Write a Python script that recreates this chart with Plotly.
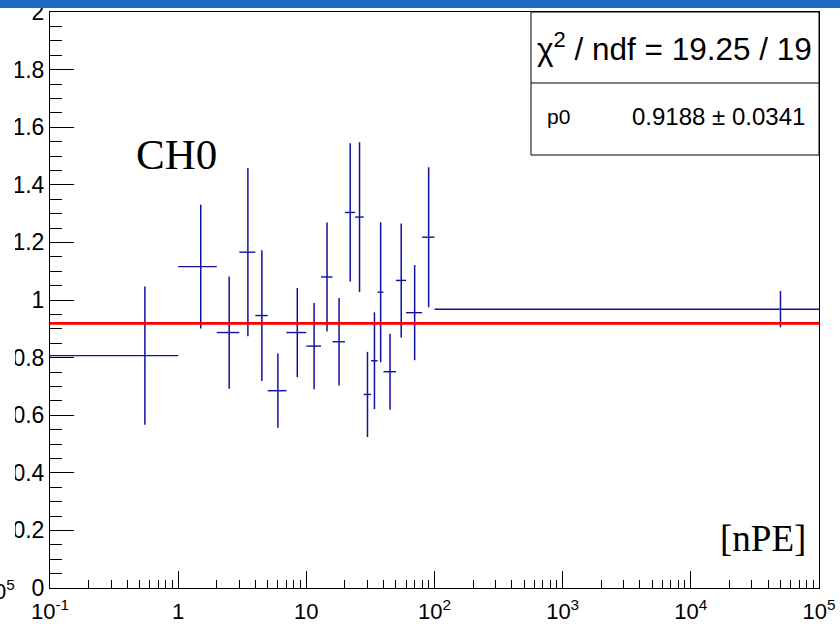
import plotly.graph_objects as go

# ---------------- data ----------------
bin_edges = [0.1, 1, 2, 3, 4, 5, 7, 10, 13, 16, 20, 24, 28, 32, 36, 40, 50, 60, 80, 100, 1e5]
ratio = [0.807, 1.116, 0.887, 1.166, 0.946, 0.685, 0.887, 0.840, 1.080, 0.855,
         1.304, 1.288, 0.672, 0.789, 1.027, 0.751, 1.068, 0.956, 1.218, 0.968]
ratio_err = [0.240, 0.215, 0.195, 0.292, 0.227, 0.129, 0.155, 0.150, 0.189, 0.152,
             0.240, 0.260, 0.148, 0.168, 0.243, 0.132, 0.198, 0.165, 0.243, 0.063]
fit_p0 = 0.9188
fit_p0_err = 0.0341
chi2 = 19.25
ndf = 19
fit_range = [0.1, 1e5]

x_major_ticks = [0.1, 1, 10, 100, 1e3, 1e4, 1e5]
x_major_labels = ["10<sup>-1</sup>", "1", "10", "10<sup>2</sup>", "10<sup>3</sup>",
                  "10<sup>4</sup>", "10<sup>5</sup>"]
x_minor_ticks = [m * 10.0 ** k for k in range(-1, 5) for m in range(2, 10)]
y_major_ticks = [0, 0.2, 0.4, 0.6, 0.8, 1.0, 1.2, 1.4, 1.6, 1.8, 2.0]
y_major_labels = ["0", "0.2", "0.4", "0.6", "0.8", "1", "1.2", "1.4", "1.6", "1.8", "2"]

# ---------------- geometry helpers (pixel -> paper) ----------------
W, H = 840, 627
ML, MR, MT, MB = 50, 21, 12, 39
PW, PH = W - ML - MR, H - MT - MB


def px(x):
    return (x - ML) / PW


def py(y):
    return (H - MB - y) / PH


centers = [(lo + hi) / 2 for lo, hi in zip(bin_edges[:-1], bin_edges[1:])]
err_plus = [hi - c for c, hi in zip(centers, bin_edges[1:])]
err_minus = [c - lo for c, lo in zip(centers, bin_edges[:-1])]

BLUE = "#1010a0"
fig = go.Figure()
fig.add_trace(go.Scatter(
    x=centers, y=ratio, mode="markers",
    marker=dict(size=0.1, color=BLUE),
    error_x=dict(type="data", symmetric=False, array=err_plus, arrayminus=err_minus,
                 width=0, thickness=1.4, color=BLUE),
    error_y=dict(type="data", array=ratio_err, width=0, thickness=1.5, color=BLUE),
    hoverinfo="skip",
))
fig.add_trace(go.Scatter(
    x=fit_range, y=[fit_p0, fit_p0], mode="lines",
    line=dict(color="#ff0000", width=2.6), hoverinfo="skip",
))

tickfont = dict(family="Liberation Sans", size=22, color="black")
fig.update_layout(
    width=W, height=H, margin=dict(l=ML, r=MR, t=MT, b=MB, autoexpand=False),
    plot_bgcolor="white", paper_bgcolor="white", showlegend=False,
)
fig.update_xaxes(
    type="log", range=[-1, 5], tickmode="array", tickvals=x_major_ticks, ticktext=x_major_labels,
    ticks="inside", ticklen=17, tickwidth=1, tickcolor="black", automargin=False,
    ticklabelstandoff=4, ticklabeloverflow="allow",
    showline=True, linecolor="black", linewidth=1, mirror=True,
    showgrid=False, zeroline=False, tickfont=tickfont,
    minor=dict(tickmode="array", tickvals=x_minor_ticks, ticks="inside", ticklen=8,
               tickwidth=1, tickcolor="black", showgrid=False),
)
fig.update_yaxes(
    range=[0, 2], tickmode="array", tickvals=y_major_ticks, ticktext=y_major_labels,
    ticks="inside", ticklen=24, tickwidth=1, tickcolor="black", automargin=False,
    ticklabeloverflow="allow",
    showline=True, linecolor="black", linewidth=1, mirror=True,
    showgrid=False, zeroline=False, tickfont=dict(family="Liberation Sans", size=23, color="black"),
    minor=dict(tick0=0, dtick=0.05, ticks="inside", ticklen=12, tickwidth=1,
               tickcolor="black", showgrid=False),
)

# stats box
fig.add_shape(type="rect", xref="paper", yref="paper",
              x0=px(531), x1=1, y0=py(155), y1=1,
              line=dict(color="black", width=1), fillcolor="white", layer="above")
fig.add_shape(type="line", xref="paper", yref="paper",
              x0=px(531), x1=1, y0=py(83), y1=py(83),
              line=dict(color="black", width=1), layer="above")
fig.add_annotation(xref="paper", yref="paper", x=px(674), y=py(47),
                   text=f"χ<sup>2</sup> / ndf = {chi2:.2f} / {ndf}", showarrow=False,
                   xanchor="center", yanchor="middle",
                   font=dict(family="Liberation Sans", size=31.5, color="black"))
fig.add_annotation(xref="paper", yref="paper", x=px(545), y=py(116),
                   text="p0", showarrow=False, xanchor="left", yanchor="middle",
                   font=dict(family="Liberation Sans", size=21, color="black"))
fig.add_annotation(xref="paper", yref="paper", x=px(807), y=py(116),
                   text=f"{fit_p0:.4f} ± {fit_p0_err:.4f}", showarrow=False,
                   xanchor="right", yanchor="middle",
                   font=dict(family="Liberation Sans", size=24, color="black"))

# labels
fig.add_annotation(xref="paper", yref="paper", x=px(134), y=py(155),
                   text="CH0", showarrow=False, xanchor="left", yanchor="middle",
                   font=dict(family="Liberation Serif", size=43, color="black"))
fig.add_annotation(xref="paper", yref="paper", x=px(808), y=py(538),
                   text="[nPE]", showarrow=False, xanchor="right", yanchor="middle",
                   font=dict(family="Liberation Serif", size=37, color="black"))

# cropped-canvas artefacts: top blue bar, covered left strip, neighbour label fragment
fig.add_shape(type="rect", xref="paper", yref="paper",
              x0=px(0), x1=px(W), y0=py(8), y1=py(0),
              line=dict(width=0), fillcolor="#1b6cc0", layer="above")
fig.add_shape(type="rect", xref="paper", yref="paper",
              x0=px(0), x1=px(15), y0=py(576), y1=py(8),
              line=dict(width=0), fillcolor="white", layer="above")
fig.add_annotation(xref="paper", yref="paper", x=px(17), y=py(590),
                   text="0<sup>5</sup>", showarrow=False, xanchor="right", yanchor="middle",
                   font=dict(family="Liberation Sans", size=22, color="black"))

fig.write_html("out.html")
